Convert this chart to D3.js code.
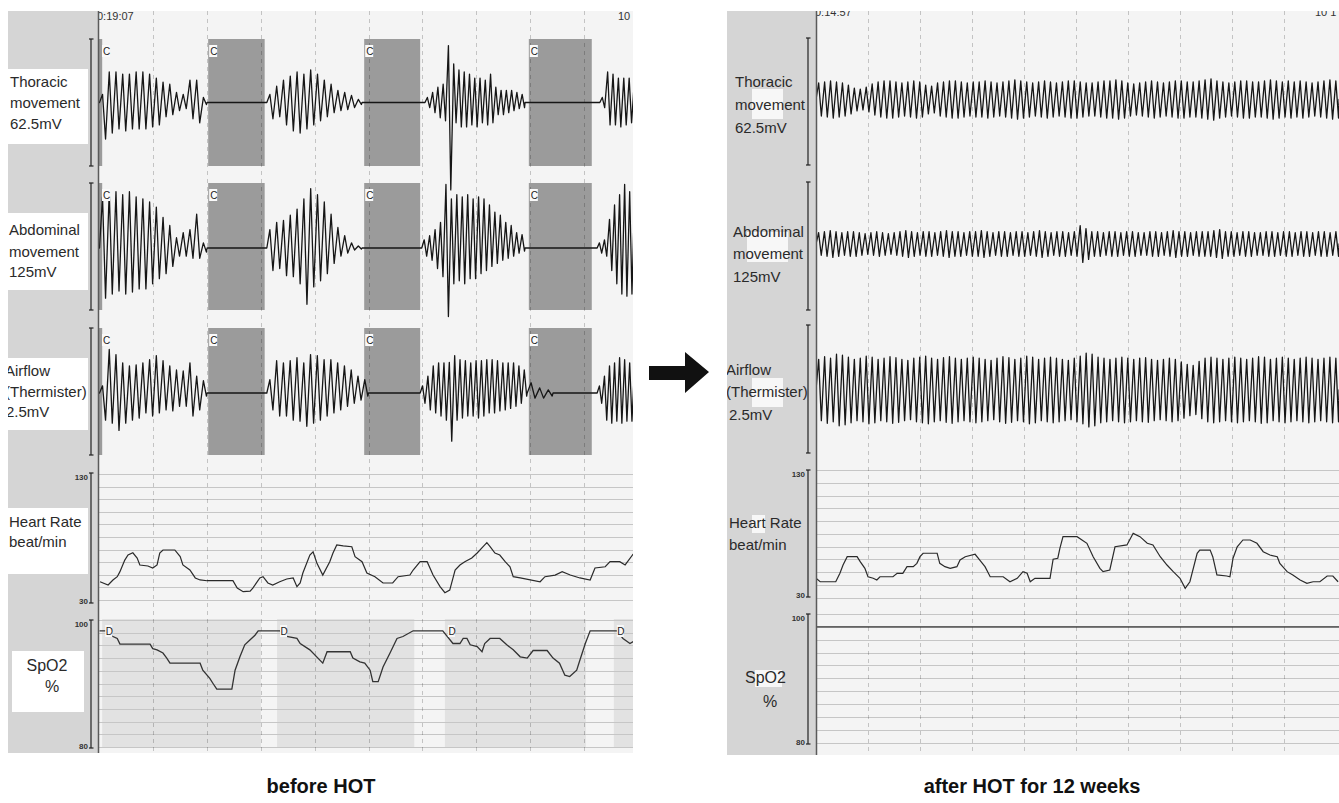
<!DOCTYPE html>
<html>
<head>
<meta charset="utf-8">
<title>Polysomnography before and after HOT</title>
<script src="https://cdn.jsdelivr.net/npm/d3@7/dist/d3.min.js"></script>
<style>
  body { margin: 0; background: #fff; }
  svg { display: block; }
  text { font-family: "Liberation Sans", Arial, sans-serif; }
</style>
</head>
<body>
<svg id="chart" width="1339" height="803"></svg>
<script>
// time is in screen divisions (10 per screen), signals in channel units

// channel labels and full-scale values
const channelKeys = ["thor", "abd", "air"];
const channelLabels = {
  thor: ["Thoracic", "movement", "62.5mV"],
  abd: ["Abdominal", "movement", "125mV"],
  air: ["Airflow", "(Thermister)", "2.5mV"],
  hr: ["Heart Rate", "beat/min"],
  spo2: ["SpO2", "%"]
};
const channelRange = { thor: 62.5, abd: 125, air: 2.5 };
const hrTicks = [30, 130];
const spo2Ticks = [80, 100];
const timeTicks = [1, 2, 3, 4, 5, 6, 7, 8, 9];
const timeLabels = [["0:19:07", "10"], ["0:14:57", "10 1"]];
const panelTitles = ["before HOT", "after HOT for 12 weeks"];

// central apnoea (C) and desaturation (D) events, before HOT
const apnoeaLeft = [[-0.1, 0.05], [2.02, 3.07], [4.92, 5.96], [7.98, 9.15]];
const desatLeft = [[0.05, 3.0], [3.3, 5.85], [6.42, 9.04], [9.56, 10.2]];

// breathing segments before HOT: per breath peak (up) and trough (dn)
const thorLeft = [
  { t0: 0.00, t1: 2.00, up: [4, 15, 15, 14, 14, 15, 15, 14, 12, 10, 9, 5, 4, 11, 11, 2.5],
    dn: [18, 15, 13, 14, 13, 13, 13, 12, 11, 7, 6, 4, 3, 8, 10, 1] },
  { t0: 3.11, t1: 4.88, up: [4, 8, 11, 13, 15, 14, 16, 14, 11, 9, 6, 5, 3.5, 1.5],
    dn: [8, 7, 11, 14, 15, 13, 11, 9, 7, 5, 4, 3.5, 2.5, 1] },
  { t0: 6.05, t1: 7.91, up: [2.5, 5, 7.5, 9, 28, 19, 16, 15, 14, 12, 12, 11, 14, 7.5, 6, 6, 6, 5, 4],
    dn: [2.5, 5, 7.5, 9, 43, 10, 12, 12, 11, 12, 10, 11, 10, 6, 6, 5, 4, 3, 2.5] },
  { t0: 9.30, t1: 10.0, up: [2.5, 15, 14, 12, 12, 12, 12], dn: [2.5, 11, 11, 12, 11, 10, 10] }
];
const abdLeft = [
  { t0: 0.00, t1: 2.00, up: [50, 55, 55, 52, 55, 50, 48, 45, 40, 30, 22, 10, 15, 18, 33, 5],
    dn: [49, 45, 42, 45, 43, 40, 40, 35, 30, 25, 18, 8, 8, 10, 10, 4] },
  { t0: 3.11, t1: 4.88, up: [18, 25, 27, 32, 38, 48, 58, 52, 45, 33, 20, 12, 5, 2],
    dn: [22, 20, 27, 28, 35, 55, 38, 32, 25, 15, 8, 5, 2, 1] },
  { t0: 5.99, t1: 7.91, up: [8, 12, 18, 25, 62, 48, 52, 50, 52, 48, 50, 48, 42, 35, 32, 25, 22, 15, 13],
    dn: [8, 12, 20, 28, 67, 35, 32, 35, 30, 30, 25, 22, 18, 15, 12, 10, 8, 5, 3] },
  { t0: 9.25, t1: 10.0, up: [5, 8, 28, 42, 52, 62, 55, 55], dn: [5, 8, 22, 35, 45, 47, 45, 45] }
];
const airLeft = [
  { t0: 0.00, t1: 2.00, up: [0.14, 0.85, 0.75, 0.59, 0.53, 0.55, 0.59, 0.65, 0.73, 0.63, 0.53, 0.45, 0.43, 0.59, 0.33, 0.24],
    dn: [0.53, 0.59, 0.73, 0.59, 0.53, 0.49, 0.39, 0.45, 0.39, 0.33, 0.35, 0.26, 0.26, 0.45, 0.33, 0.06] },
  { t0: 3.11, t1: 5.00, up: [0.26, 0.63, 0.59, 0.63, 0.69, 0.59, 0.75, 0.73, 0.65, 0.65, 0.59, 0.53, 0.45, 0.33, 0.26],
    dn: [0.33, 0.45, 0.45, 0.53, 0.55, 0.65, 0.59, 0.53, 0.45, 0.39, 0.33, 0.26, 0.2, 0.14, 0.06] },
  { t0: 5.96, t1: 7.95, up: [0.14, 0.33, 0.53, 0.59, 0.59, 0.6, 0.73, 0.65, 0.63, 0.59, 0.63, 0.63, 0.65, 0.65, 0.63, 0.59, 0.59, 0.59, 0.53, 0.45],
    dn: [0.2, 0.33, 0.39, 0.45, 0.53, 0.94, 0.53, 0.49, 0.45, 0.45, 0.49, 0.45, 0.39, 0.39, 0.35, 0.33, 0.3, 0.26, 0.2, 0.06] },
  { t0: 7.95, t1: 8.43, up: [0.2, 0.1, 0.06], dn: [0.1, 0.1, 0.06] },
  { t0: 9.25, t1: 10.0, up: [0.14, 0.33, 0.53, 0.59, 0.69, 0.65, 0.59, 0.59],
    dn: [0.2, 0.53, 0.59, 0.55, 0.59, 0.55, 0.55, 0.55] }
];

// heart rate [time, beat/min] and SpO2 [time, %], before HOT
const hrLeft = [[0.01,44.5],[0.16,41.9],[0.25,45.9],[0.33,48.5],[0.38,52.5],[0.47,61.7],[0.53,65.7],[0.62,67.5],
  [0.70,63.3],[0.75,57.8],[0.90,57.0],[0.99,55.4],[1.07,57.8],[1.12,67.3],[1.18,69.7],[1.40,69.7],[1.50,64.4],
  [1.55,57.8],[1.68,53.8],[1.78,47.5],[1.87,45.9],[2.00,45.3],[2.48,45.3],[2.56,39.5],[2.67,36.6],[2.80,37.1],
  [2.85,39.5],[2.98,47.5],[3.04,48.5],[3.13,43.5],[3.22,41.9],[3.35,44.5],[3.48,46.7],[3.60,47.5],[3.67,40.6],
  [3.73,43.5],[3.78,51.4],[3.91,65.7],[3.97,68.3],[4.04,59.4],[4.15,49.8],[4.28,60.4],[4.34,67.3],[4.41,73.7],
  [4.53,72.9],[4.69,72.3],[4.75,64.4],[4.88,60.4],[4.97,51.4],[5.12,48.5],[5.27,43.5],[5.45,43.5],[5.55,48.5],
  [5.77,49.8],[5.83,53.8],[5.96,60.4],[6.09,60.4],[6.20,49.8],[6.33,40.6],[6.42,35.8],[6.51,37.9],[6.61,53.8],
  [6.70,57.8],[6.79,60.4],[6.92,63.3],[7.02,67.3],[7.13,72.3],[7.20,75.5],[7.26,72.3],[7.35,67.3],[7.44,65.7],
  [7.54,60.4],[7.63,56.4],[7.69,48.5],[7.82,47.5],[8.19,44.5],[8.28,48.5],[8.47,49.8],[8.60,52.5],[8.75,49.8],
  [8.93,47.5],[9.12,45.9],[9.21,55.4],[9.40,56.4],[9.49,60.4],[9.67,60.4],[9.77,57.8],[9.92,66.5]];
const spo2Left = [[0.0,98.3],[0.14,98.3],[0.20,97.6],[0.33,97.1],[0.38,96.2],[0.94,96.2],[0.99,95.5],[1.07,95.3],
  [1.18,94.8],[1.25,94.0],[1.31,93.2],[1.87,93.2],[1.92,92.1],[2.05,90.8],[2.11,90.0],[2.18,89.1],[2.46,89.1],
  [2.52,92.1],[2.61,94.2],[2.70,96.1],[2.80,96.9],[2.89,97.6],[2.95,98.3],[3.35,98.3],[3.48,97.4],[3.67,97.1],
  [3.73,96.3],[3.91,95.3],[4.15,93.2],[4.23,95.0],[4.66,95.0],[4.71,94.0],[4.84,93.4],[4.93,93.2],[5.03,92.1],
  [5.08,90.3],[5.18,90.3],[5.27,92.6],[5.40,94.8],[5.53,97.1],[5.64,97.4],[5.83,98.3],[6.38,98.3],[6.57,96.3],
  [6.70,96.3],[6.76,97.1],[6.83,97.1],[6.89,96.1],[7.02,95.8],[7.11,95.0],[7.16,96.3],[7.26,97.1],[7.44,97.1],
  [7.57,96.1],[7.69,95.3],[7.82,94.2],[7.95,94.0],[8.06,95.2],[8.32,95.2],[8.43,94.0],[8.55,93.2],[8.65,91.3],
  [8.74,91.1],[8.87,92.1],[8.93,93.7],[9.03,96.3],[9.12,98.3],[9.62,98.3],[9.73,97.1],[9.86,96.3],[9.92,96.6]];

// after HOT: regular breathing, one amplitude per breath
const thorRight = [8, 8.5, 9, 8.5, 8, 7, 5.5, 5, 6, 7.5, 8.5, 9, 9, 8.5, 8, 8.5, 9, 8.5, 7, 6.5,
  8, 8.5, 9, 9, 8.5, 8, 8.5, 8.5, 9, 8.5, 8, 8.5, 9, 9.5, 9, 8.5, 8, 8.5, 9, 8.5,
  8, 8.5, 9, 9, 8.5, 8, 8, 8.5, 9, 9, 9.5, 9, 8, 7.5, 8, 8.5, 9, 8.5, 8, 8.5,
  9, 9, 8.5, 8.5, 9, 9.5, 10, 9, 8.5, 8, 8.5, 9, 9, 8.5, 8.5, 9, 9.5, 9, 8.5, 9,
  8.5, 9, 8.5, 8, 8.5, 9, 9.5, 9];
const abdRight = [11, 12, 13, 12, 11, 12, 12, 11, 10, 11, 12, 11, 10, 11, 12, 13, 12, 11, 12, 12,
  11, 12, 13, 12, 12, 11, 12, 12, 13, 12, 11, 12, 12, 11, 12, 12, 11, 12, 13, 12,
  11, 12, 12, 11, 12, 18, 15, 12, 12, 11, 12, 12, 11, 12, 12, 11, 11, 12, 12, 11,
  12, 13, 12, 12, 11, 12, 12, 12, 13, 14, 12, 12, 11, 12, 12, 11, 11, 12, 12, 11,
  12, 12, 11, 12, 12, 11, 12, 12, 11, 12];
const airRight = [0.6, 0.65, 0.62, 0.7, 0.68, 0.64, 0.6, 0.62, 0.66, 0.64, 0.6, 0.62, 0.65, 0.63, 0.6, 0.58,
  0.62, 0.64, 0.66, 0.62, 0.6, 0.63, 0.65, 0.62, 0.6, 0.62, 0.64, 0.62, 0.6, 0.58, 0.62, 0.65, 0.63, 0.6,
  0.62, 0.66, 0.64, 0.6, 0.62, 0.64, 0.62, 0.6, 0.58, 0.62, 0.66, 0.72, 0.7, 0.64, 0.62, 0.6, 0.62, 0.64,
  0.62, 0.6, 0.62, 0.63, 0.6, 0.58, 0.6, 0.62, 0.6, 0.55, 0.5, 0.48, 0.56, 0.62, 0.64, 0.62, 0.6, 0.62,
  0.64, 0.62, 0.6, 0.62, 0.65, 0.64, 0.6, 0.62, 0.64, 0.62, 0.6, 0.62, 0.64, 0.62, 0.6, 0.62, 0.64, 0.62];
const hrRight = [[0,45.2],[0.08,42.5],[0.38,42.5],[0.46,49.1],[0.52,55.6],[0.60,62.1],[0.79,62.1],[0.85,58.2],
  [0.94,53.0],[1.00,46.4],[1.10,45.2],[1.17,43.9],[1.23,46.4],[1.48,46.4],[1.56,49.1],[1.67,49.1],[1.75,54.3],
  [1.87,54.3],[1.94,56.9],[2.00,62.1],[2.06,64.8],[2.33,64.8],[2.38,56.9],[2.48,54.3],[2.58,53.0],[2.71,54.3],
  [2.77,59.5],[2.87,62.1],[3.06,64.0],[3.15,59.5],[3.25,54.3],[3.35,46.4],[3.60,46.4],[3.73,42.5],[3.87,45.2],
  [3.98,50.4],[4.06,49.1],[4.12,42.5],[4.21,45.2],[4.50,45.2],[4.56,60.1],[4.65,60.9],[4.69,68.7],[4.75,77.8],
  [5.02,77.8],[5.21,72.6],[5.33,62.1],[5.46,53.0],[5.52,50.4],[5.65,51.7],[5.75,69.9],[5.98,71.3],[6.10,80.4],
  [6.23,77.8],[6.37,72.6],[6.48,71.3],[6.62,62.1],[6.75,55.6],[6.87,50.4],[7.00,45.2],[7.10,37.4],[7.19,42.5],
  [7.33,64.8],[7.38,67.3],[7.58,67.3],[7.63,62.1],[7.71,47.8],[7.90,47.0],[7.96,46.4],[8.02,60.9],[8.10,69.9],
  [8.21,75.2],[8.35,75.2],[8.48,72.6],[8.60,66.0],[8.73,63.4],[8.87,62.1],[8.92,56.9],[9.06,50.4],[9.17,47.8],
  [9.31,43.9],[9.44,41.3],[9.56,42.5],[9.69,42.5],[9.83,47.0],[9.94,47.0],[10.04,42.5]];
const spo2Right = [[0, 98], [2, 98], [4, 98], [6, 98], [8, 98], [10.1, 98]];

const panelData = [
  { resp: { thor: thorLeft, abd: abdLeft, air: airLeft }, hr: hrLeft, spo2: spo2Left,
    apnoea: apnoeaLeft, desat: desatLeft },
  { resp: { thor: [{ t0: 0, t1: 10.06, up: thorRight, dn: thorRight }],
            abd: [{ t0: 0, t1: 10.06, up: abdRight, dn: abdRight }],
            air: [{ t0: 0, t1: 10.06, up: airRight, dn: airRight }] },
    hr: hrRight, spo2: spo2Right, apnoea: [], desat: [] }
];

// ---- layout of the two screenshots
const layouts = [
  { id: "L", colX: 8, plotX: 98, right: 633, top: 11, bottom: 753, t: [99.5, 637.5], bx: 91,
    rows: { thor: [39, 166], abd: [184, 312], air: [329, 457], hr: [474, 600], spo2: [620, 747] },
    boxRows: { thor: [39, 166], abd: [183, 310], air: [328, 455] },
    brackets: { thor: [39, 166], abd: [183, 310], air: [328, 455], hr: [473, 603], spo2: [620, 748] },
    timeY: 20, timeX: [97, 618], titleX: 321,
    boxes: [[8, 69, 80, 75], [8, 213, 80, 77], [8, 358, 80, 72], [8, 508, 80, 66], [12, 651, 72, 61]],
    text: {
      thor: { x: [10, 10, 10], y: [87, 108, 129] },
      abd: { x: [9, 9, 9], y: [235, 257, 277] },
      air: { x: [5, 5, 6], y: [376, 397, 417] },
      hr: { x: [9, 9], y: [527, 547] },
      spo2: { x: [47, 52], y: [671, 692], size: 16, anchor: "middle" }
    } },
  { id: "R", colX: 727, plotX: 816, right: 1339, top: 11, bottom: 755, t: [816, 1336], bx: 808,
    rows: { thor: [35, 164], abd: [180, 308], air: [326, 454], hr: [470, 597.7], spo2: [614, 742.7] },
    boxRows: { thor: [38, 165], abd: [182, 310], air: [325, 453] },
    brackets: { thor: [38, 165], abd: [182, 310], air: [325, 453], hr: [470, 597], spo2: [614, 744] },
    timeY: 16, timeX: [815, 1315], titleX: 1032,
    patches: [[752, 89, 31, 30], [747, 232, 41, 30], [752, 378, 31, 29], [752, 515, 13, 18], [755, 670, 27, 17]],
    text: {
      thor: { x: [735, 735, 735], y: [87, 110, 133] },
      abd: { x: [733, 733, 733], y: [237, 259, 282] },
      air: { x: [726, 726, 729], y: [375, 397, 420] },
      hr: { x: [729, 729], y: [528, 550] },
      spo2: { x: [745, 763], y: [683, 707], size: 16, anchor: "start" }
    } }
];

const svg = d3.select("#chart");
const defs = svg.append("defs");

// turn breath segments into a zig-zag trace, flat (apnoea) between segments
function breathPoints(segs) {
  const pts = [[-1, 0]];
  segs.forEach(s => {
    const n = s.up.length, dt = (s.t1 - s.t0) / n;
    pts.push([s.t0, 0]);
    s.up.forEach((u, i) => {
      pts.push([s.t0 + (i + 0.45) * dt, u]);
      pts.push([s.t0 + (i + 0.9) * dt, -s.dn[i]]);
    });
    pts.push([s.t1, 0]);
  });
  pts.push([11, 0]);
  return pts;
}

function drawPanel(L, D, times, title) {
  const x = d3.scaleLinear().domain([0, 10]).range(L.t);
  const g = svg.append("g");
  const h = L.bottom - L.top;

  defs.append("clipPath").attr("id", "plot" + L.id).append("rect")
    .attr("x", L.plotX).attr("y", L.top).attr("width", L.right - L.plotX).attr("height", h);
  defs.append("clipPath").attr("id", "col" + L.id).append("rect")
    .attr("x", L.colX).attr("y", L.top).attr("width", L.plotX - L.colX).attr("height", h);

  g.append("rect").attr("x", L.colX).attr("y", L.top).attr("width", L.plotX - L.colX)
    .attr("height", h).attr("fill", "#d5d5d5");
  g.append("rect").attr("x", L.plotX).attr("y", L.top).attr("width", L.right - L.plotX)
    .attr("height", h).attr("fill", "#f4f4f4");

  const plot = g.append("g").attr("clip-path", `url(#plot${L.id})`);
  const yHR = d3.scaleLinear().domain(hrTicks).range([L.rows.hr[1], L.rows.hr[0]]);
  const ySp = d3.scaleLinear().domain(spo2Ticks).range([L.rows.spo2[1], L.rows.spo2[0]]);

  // desaturation shading
  plot.selectAll(".desat").data(D.desat).join("rect")
    .attr("x", d => x(d[0])).attr("width", d => x(d[1]) - x(d[0]))
    .attr("y", ySp(100) - 1).attr("height", ySp(80) - ySp(100) + 1)
    .attr("fill", "#e2e2e2");

  // horizontal grid of heart rate and SpO2 channels
  const hLines = d3.range(30, 131, 10).map(v => yHR(v))
    .concat(d3.range(80, 101, 2).map(v => ySp(v)));
  plot.selectAll(".hgrid").data(hLines).join("line")
    .attr("x1", L.plotX).attr("x2", L.right)
    .attr("y1", d => Math.round(d) + 0.5).attr("y2", d => Math.round(d) + 0.5)
    .attr("stroke", "#c6c6c6").attr("stroke-width", 1);

  // apnoea boxes in the three respiratory rows
  channelKeys.forEach(k => {
    const r = L.boxRows[k];
    plot.selectAll(".ap-" + k).data(D.apnoea).join("rect")
      .attr("x", d => x(d[0])).attr("width", d => x(d[1]) - x(d[0]))
      .attr("y", r[0]).attr("height", r[1] - r[0])
      .attr("fill", "#9b9b9b");
  });

  // dashed time grid
  plot.selectAll(".vgrid").data(timeTicks).join("line")
    .attr("x1", d => Math.round(x(d)) + 0.5).attr("x2", d => Math.round(x(d)) + 0.5)
    .attr("y1", L.top).attr("y2", L.bottom)
    .attr("stroke", "#000").attr("stroke-opacity", 0.2).attr("stroke-dasharray", "4,4");

  // respiratory traces
  channelKeys.forEach(k => {
    const r = L.rows[k];
    const y = d3.scaleLinear().domain([-channelRange[k] / 2, channelRange[k] / 2]).range([r[1], r[0]]);
    plot.append("path").datum(breathPoints(D.resp[k]))
      .attr("d", d3.line().x(d => x(d[0])).y(d => y(d[1])))
      .attr("fill", "none").attr("stroke", "#161616").attr("stroke-width", 1.3)
      .attr("stroke-linejoin", "round");
  });

  // heart rate and SpO2 traces
  plot.append("path").datum(D.hr)
    .attr("d", d3.line().x(d => x(d[0])).y(d => yHR(d[1])))
    .attr("fill", "none").attr("stroke", "#2a2a2a").attr("stroke-width", 1.2);
  plot.append("path").datum(D.spo2)
    .attr("d", d3.line().x(d => x(d[0])).y(d => ySp(d[1])))
    .attr("fill", "none").attr("stroke", "#333").attr("stroke-width", 1.3);

  // event markers
  channelKeys.forEach(k => {
    const r = L.boxRows[k];
    const m = plot.selectAll(".c-" + k).data(D.apnoea).join("g")
      .attr("transform", d => `translate(${Math.max(x(d[0]), L.plotX + 3) + 1},${r[0] + 6})`);
    m.append("rect").attr("width", 8).attr("height", 12).attr("fill", "#fafafa");
    m.append("text").attr("x", 1).attr("y", 10).attr("font-size", 10).attr("fill", "#222").text("C");
  });
  const dm = plot.selectAll(".dmark").data(D.desat).join("g")
    .attr("transform", d => `translate(${x(d[0]) + 3},${ySp(100) + 5})`);
  dm.append("rect").attr("width", 7).attr("height", 12).attr("fill", "#f8f8f8");
  dm.append("text").attr("x", 0.5).attr("y", 10).attr("font-size", 10).attr("fill", "#222").text("D");

  // time stamps
  plot.selectAll(".time").data(times).join("text")
    .attr("x", (d, i) => L.timeX[i]).attr("y", L.timeY)
    .attr("font-size", 11).attr("fill", "#333").text(d => d);

  // plot left edge
  g.append("line").attr("x1", L.plotX + 0.5).attr("x2", L.plotX + 0.5)
    .attr("y1", L.top).attr("y2", L.bottom).attr("stroke", "#5a5a5a").attr("stroke-width", 1.5);

  // scale brackets
  Object.values(L.brackets).forEach(b => {
    const br = g.append("g").attr("stroke", "#222").attr("stroke-width", 1.2);
    br.append("line").attr("x1", L.bx).attr("x2", L.bx).attr("y1", b[0]).attr("y2", b[1]);
    br.append("line").attr("x1", L.bx - 2).attr("x2", L.bx + 2.5).attr("y1", b[0]).attr("y2", b[0]);
    br.append("line").attr("x1", L.bx - 2).attr("x2", L.bx + 2.5).attr("y1", b[1]).attr("y2", b[1]);
  });
  const nums = [
    [hrTicks[1], L.brackets.hr[0] + 7], [hrTicks[0], L.brackets.hr[1] + 1],
    [spo2Ticks[1], L.brackets.spo2[0] + 7], [spo2Ticks[0], L.brackets.spo2[1] + 1]
  ];
  g.selectAll(".num").data(nums).join("text")
    .attr("x", L.bx - 3).attr("y", d => d[1]).attr("text-anchor", "end")
    .attr("font-size", 8).attr("font-weight", "bold").attr("fill", "#333").text(d => d[0]);

  // channel labels
  const col = g.append("g").attr("clip-path", `url(#col${L.id})`);
  (L.boxes || []).forEach(b => col.append("rect").attr("x", b[0]).attr("y", b[1])
    .attr("width", b[2]).attr("height", b[3]).attr("fill", "#fff"));
  (L.patches || []).forEach(b => col.append("rect").attr("x", b[0]).attr("y", b[1])
    .attr("width", b[2]).attr("height", b[3]).attr("fill", "#f7f7f7"));
  Object.keys(L.text).forEach(k => {
    const t = L.text[k];
    channelLabels[k].forEach((s, i) => {
      col.append("text").attr("x", t.x[i]).attr("y", t.y[i])
        .attr("font-size", t.size || 15).attr("text-anchor", t.anchor || "start")
        .attr("fill", "#2a2a2a").text(s);
    });
  });

  // caption under the screenshot
  svg.append("text").attr("x", L.titleX).attr("y", 793).attr("text-anchor", "middle")
    .attr("font-size", 20).attr("font-weight", "bold").attr("fill", "#111").text(title);
}

layouts.forEach((L, i) => drawPanel(L, panelData[i], timeLabels[i], panelTitles[i]));

// arrow between the two screenshots
svg.append("path")
  .attr("d", d3.line()([[649, 366], [685, 366], [685, 352], [709, 372], [685, 393], [685, 380], [649, 380]]) + "Z")
  .attr("fill", "#111");
</script>
</body>
</html>
